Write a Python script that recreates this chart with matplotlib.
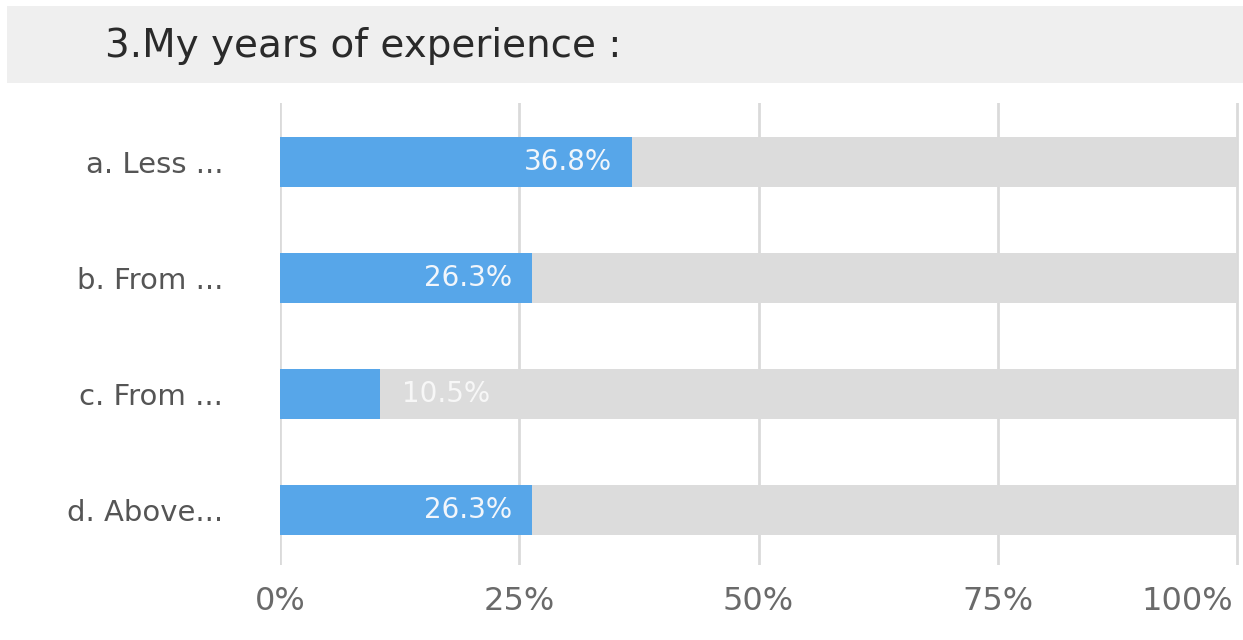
import matplotlib
matplotlib.use("Agg")
import matplotlib.pyplot as plt
from matplotlib.patches import Rectangle
from matplotlib.transforms import blended_transform_factory, offset_copy

title = "3.My years of experience :"
categories = ["a. Less ...", "b. From ...", "c. From ...", "d. Above..."]
percentages = [36.8, 26.3, 10.5, 26.3]
tick_values = [0, 25, 50, 75, 100]
tick_labels = ["0%", "25%", "50%", "75%", "100%"]

plt.rcParams["font.family"] = ["DejaVu Sans"]

W, H = 1243, 640
fig = plt.figure(figsize=(W / 100, H / 100), dpi=100)
fig.patch.set_facecolor("white")

# Title band
fig.patches.append(Rectangle((7 / W, 1 - 83 / H), 1 - 7 / W, 77 / H,
                             transform=fig.transFigure, facecolor="#efefef",
                             edgecolor="none", zorder=0))
fig.text(105 / W, 1 - 46 / H, title, fontsize=28, color="#2a2a2a",
         ha="left", va="center")

left, right = 280 / W, 1.0
top, bottom = 1 - 103 / H, 1 - 565 / H
ax = fig.add_axes([left, bottom, right - left, top - bottom])
ax.set_facecolor("none")

xmax = 100 * (W - 280) / (1237 - 280)
ax.set_xlim(0, xmax)
ax.set_ylim(3.478, -0.509)

ypos = list(range(len(categories)))
bar_h = 0.43

for x in tick_values:
    ax.axvline(x, color="#dadada", lw=2, zorder=0)

ax.barh(ypos, [100] * len(ypos), height=bar_h, color="#dcdcdc", zorder=1)
ax.barh(ypos, percentages, height=bar_h, color="#57a6e9", zorder=2)

for y, v in zip(ypos, percentages):
    label = f"{v:.1f}%"
    if v >= 20:
        ax.annotate(label, (v, y), xytext=(-20, 0), textcoords="offset pixels",
                    ha="right", va="center", fontsize=20, color="#f2f6fb", zorder=3)
    else:
        ax.annotate(label, (v, y), xytext=(22, 0), textcoords="offset pixels",
                    ha="left", va="center", fontsize=20, color="#f7f7f7", zorder=3)

ax.set_yticks(ypos)
ax.set_yticklabels(categories, fontsize=21, color="#555555")
ax.tick_params(axis="y", length=0, pad=41)

# x tick labels drawn as text below the axes; the last one is kept inside the edge
ax.set_xticks([])
xlab_tr = offset_copy(blended_transform_factory(ax.transData, ax.transAxes),
                      fig=fig, x=0, y=-36, units="dots")
for i, (x, lab) in enumerate(zip(tick_values, tick_labels)):
    last = i == len(tick_values) - 1
    ax.text(x - 0.4 if last else x, 0, lab,
            transform=xlab_tr, ha="right" if last else "center", va="center",
            fontsize=23, color="#6a6a6a", clip_on=False)

for s in ax.spines.values():
    s.set_visible(False)

fig.savefig("out.png", dpi=100, facecolor="white")
